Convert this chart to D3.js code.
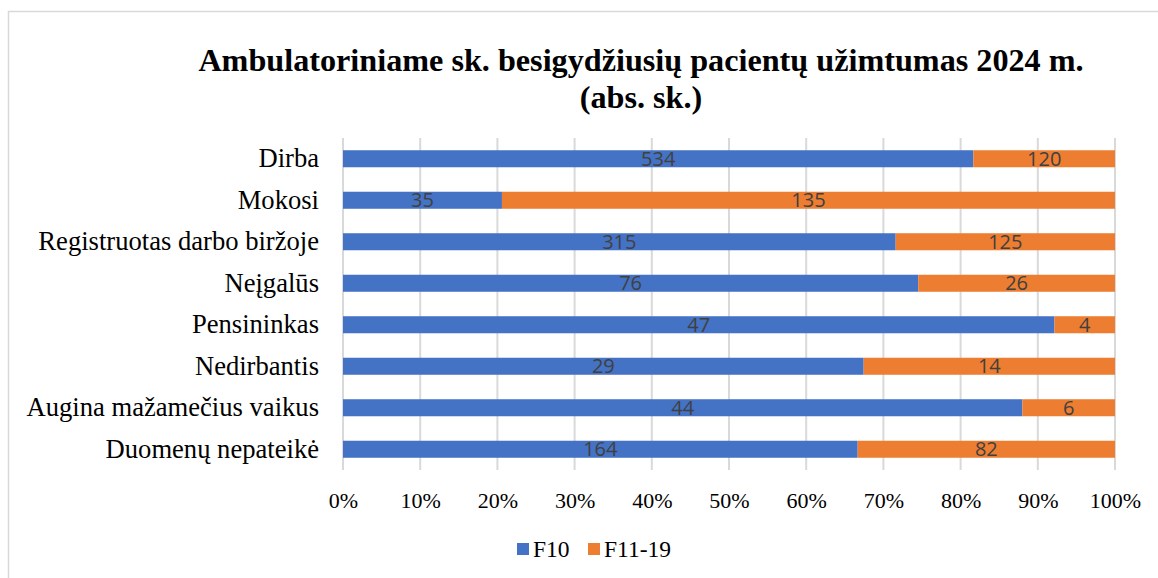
<!DOCTYPE html>
<html lang="lt">
<head>
    <meta charset="UTF-8">
    <title>Ambulatoriniame sk. besigydžiusių pacientų užimtumas 2024 m.</title>
    <script src="https://d3js.org/d3.v7.min.js"></script>
    <style>
        html, body {
            margin: 0;
            background: #fff;
        }
        .grid line {
            stroke: #d9d9d9;
            stroke-width: 2px;
        }
        .serif {
            font-family: "Liberation Serif", "Times New Roman", serif;
        }
    </style>
</head>
<body>
<div class="chart"></div>
<script>
    var categories = ["Dirba", "Mokosi", "Registruotas darbo biržoje", "Neįgalūs",
        "Pensininkas", "Nedirbantis", "Augina mažamečius vaikus", "Duomenų nepateikė"];
    var f10 = [534, 35, 315, 76, 47, 29, 44, 164];
    var f11_19 = [120, 135, 125, 26, 4, 14, 6, 82];
    var seriesNames = ["F10", "F11-19"];
    var tickValues = [0, 0.1, 0.2, 0.3, 0.4, 0.5, 0.6, 0.7, 0.8, 0.9, 1];

    var colors = ["#4472C4", "#ED7D31"];
    var width = 1158, height = 578;
    var margin = {left: 343, right: 43, top: 138, bottom: 108};

    var rows = categories.map(function (c, i) {
        var total = f10[i] + f11_19[i];
        return {cat: c, vals: [f10[i], f11_19[i]], total: total};
    });

    var svg = d3.select('.chart').append('svg')
        .attr('width', width).attr('height', height);

    // light frame round the chart
    svg.append('rect')
        .attr('x', 8.5).attr('y', 11.5)
        .attr('width', width).attr('height', height)
        .attr('fill', 'none').attr('stroke', '#d9d9d9').attr('stroke-width', 1.5);

    var x = d3.scaleLinear().domain([0, 1]).range([margin.left, width - margin.right]);
    var y = d3.scaleBand().domain(categories)
        .range([margin.top, height - margin.bottom]).paddingInner(0.59).paddingOuter(0.295);

    // title
    var title = svg.append('text')
        .attr('class', 'serif')
        .attr('text-anchor', 'middle')
        .attr('font-weight', 'bold').attr('font-size', 32.2)
        .attr('fill', '#000');
    title.append('tspan').attr('x', 641).attr('y', 71)
        .text('Ambulatoriniame sk. besigydžiusių pacientų užimtumas 2024 m.');
    title.append('tspan').attr('x', 641).attr('y', 108).text('(abs. sk.)');

    // gridlines
    svg.append('g').attr('class', 'grid')
        .selectAll('line').data(tickValues).enter().append('line')
        .attr('x1', function (d) { return x(d); })
        .attr('x2', function (d) { return x(d); })
        .attr('y1', margin.top).attr('y2', height - margin.bottom);

    // x axis labels
    var xAxis = d3.axisBottom(x).tickValues(tickValues).tickFormat(d3.format('.0%')).tickSize(0).tickPadding(0);
    var gx = svg.append('g').attr('transform', 'translate(0,' + (height - margin.bottom + 22) + ')').call(xAxis);
    gx.attr('font-family', null).attr('font-size', null);
    gx.select('.domain').remove();
    gx.selectAll('text')
        .attr('class', 'serif')
        .attr('font-size', 22).attr('fill', '#000').attr('dy', '0.71em');

    // y axis labels
    var yAxis = d3.axisLeft(y).tickSize(0).tickPadding(24);
    var gy = svg.append('g').attr('transform', 'translate(' + margin.left + ',0)').call(yAxis);
    gy.attr('font-family', null).attr('font-size', null);
    gy.select('.domain').remove();
    gy.selectAll('text')
        .attr('class', 'serif')
        .attr('font-size', 26.6).attr('fill', '#000');

    // bars
    var rowG = svg.append('g').selectAll('g').data(rows).enter().append('g');
    rowG.each(function (d) {
        var g = d3.select(this);
        var start = 0;
        d.vals.forEach(function (v, k) {
            var frac = v / d.total;
            g.append('rect')
                .attr('x', x(start)).attr('y', y(d.cat))
                .attr('width', x(start + frac) - x(start))
                .attr('height', y.bandwidth())
                .attr('fill', colors[k]);
            g.append('text')
                .attr('x', x(start + frac / 2))
                .attr('y', y(d.cat) + y.bandwidth() / 2)
                .attr('dy', '0.36em')
                .attr('text-anchor', 'middle')
                .attr('font-family', '"Open Sans", "Noto Sans", sans-serif')
                .attr('font-size', 20).attr('fill', '#404040')
                .text(v);
            start += frac;
        });
    });

    // legend
    var legendX = [517, 588];
    var legend = svg.append('g').selectAll('g').data(seriesNames).enter().append('g')
        .attr('transform', function (d, i) { return 'translate(' + legendX[i] + ',549)'; });
    legend.append('rect').attr('x', 0).attr('y', -6).attr('width', 12).attr('height', 12)
        .attr('fill', function (d, i) { return colors[i]; });
    legend.append('text').attr('class', 'serif').attr('x', 16).attr('y', 0).attr('dy', '0.35em')
        .attr('font-size', 23.5).attr('fill', '#000')
        .text(function (d) { return d; });
</script>
</body>
</html>
